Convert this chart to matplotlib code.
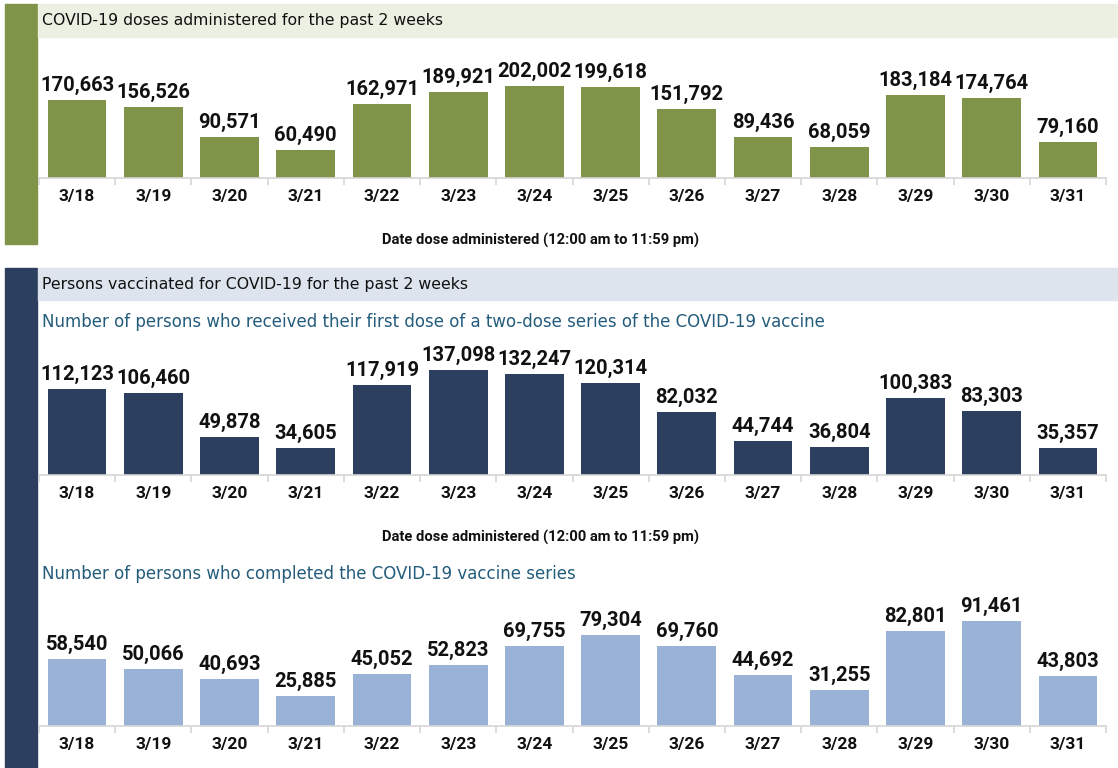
import matplotlib
matplotlib.use("Agg")
import matplotlib.pyplot as plt
from matplotlib.patches import Rectangle
from matplotlib import font_manager

dates = ["3/18", "3/19", "3/20", "3/21", "3/22", "3/23", "3/24",
         "3/25", "3/26", "3/27", "3/28", "3/29", "3/30", "3/31"]
doses_administered = [170663, 156526, 90571, 60490, 162971, 189921, 202002,
                      199618, 151792, 89436, 68059, 183184, 174764, 79160]
first_dose = [112123, 106460, 49878, 34605, 117919, 137098, 132247,
              120314, 82032, 44744, 36804, 100383, 83303, 35357]
completed_series = [58540, 50066, 40693, 25885, 45052, 52823, 69755,
                    79304, 69760, 44692, 31255, 82801, 91461, 43803]

header1 = "COVID-19 doses administered for the past 2 weeks"
header2 = "Persons vaccinated for COVID-19 for the past 2 weeks"
sub1 = "Number of persons who received their first dose of a two-dose series of the COVID-19 vaccine"
sub2 = "Number of persons who completed the COVID-19 vaccine series"
xlabel = "Date dose administered (12:00 am to 11:59 pm)"

W, H = 1118, 768
fig = plt.figure(figsize=(W / 100, H / 100), dpi=100)

names = {f.name for f in font_manager.fontManager.ttflist}
label_font = "Roboto" if "Roboto" in names else "DejaVu Sans"
narrow_font = "Liberation Sans Narrow" if "Liberation Sans Narrow" in names else label_font

GREEN = "#7F9449"
NAVY = "#2C3F5E"
LIGHTBLUE = "#9AB2D6"
SUBCOLOR = "#245C7C"


def fig_rect(x0, y0, x1, y1):
    return [x0 / W, 1 - y1 / H, (x1 - x0) / W, (y1 - y0) / H]


# background decoration (side bars and header bands)
bg = fig.add_axes([0, 0, 1, 1])
bg.set_xlim(0, W)
bg.set_ylim(H, 0)
bg.axis("off")
bg.add_patch(Rectangle((5, 4), 32, 240, color=GREEN))
bg.add_patch(Rectangle((38, 4), W - 38, 33, color="#ECF0E2"))
bg.add_patch(Rectangle((5, 268), 32, 500, color=NAVY))
bg.add_patch(Rectangle((38, 268), W - 38, 32, color="#DDE4EE"))
bg.text(42, 21, header1, fontsize=11.3, va="center", ha="left", color="#111111",
        family="DejaVu Sans")
bg.text(42, 285, header2, fontsize=11.3, va="center", ha="left", color="#111111",
        family="DejaVu Sans")
bg.text(42, 322, sub1, fontsize=12.0, va="center", ha="left", color=SUBCOLOR,
        family="DejaVu Sans")
bg.text(42, 574, sub2, fontsize=12.0, va="center", ha="left", color=SUBCOLOR,
        family="DejaVu Sans")
bg.text(540, 240, xlabel, fontsize=10.6, va="center", ha="center", color="#111111",
        family=narrow_font, weight="bold")
bg.text(540, 537, xlabel, fontsize=10.6, va="center", ha="center", color="#111111",
        family=narrow_font, weight="bold")


def panel(values, color, top_px, base_px, px_per_max, vmax, label_gap):
    ax = fig.add_axes(fig_rect(39, top_px, 1106, base_px))
    height_px = base_px - top_px
    ymax = vmax * height_px / px_per_max
    x = list(range(len(values)))
    ax.bar(x, values, width=0.77, color=color, edgecolor="none", zorder=2)
    ax.set_xlim(-0.5, len(values) - 0.5)
    ax.set_ylim(0, ymax)
    for s in ["top", "right", "left"]:
        ax.spines[s].set_visible(False)
    ax.spines["bottom"].set_color("#D6D6D6")
    ax.spines["bottom"].set_linewidth(1.2)
    ax.set_yticks([])
    ax.set_xticks([i + 0.5 for i in range(-1, len(values))], minor=False)
    ax.set_xticklabels([])
    ax.tick_params(axis="x", which="major", length=5, color="#D6D6D6", width=1.2)
    ax.set_xticks(x, minor=True)
    ax.set_xticklabels(dates, minor=True, fontsize=12.5, fontweight="bold",
                       family=label_font, color="#111111")
    ax.tick_params(axis="x", which="minor", length=0, pad=8)
    ax.patch.set_alpha(0)
    for xi, v in zip(x, values):
        ax.annotate(f"{v:,}", (xi, v), xytext=(0, label_gap), textcoords="offset pixels",
                    ha="center", va="bottom", fontsize=14.5, fontweight="bold",
                    family=label_font, color="#111111")
    return ax


panel(doses_administered, GREEN, 40, 178, 92, max(doses_administered), 5)
panel(first_dose, NAVY, 335, 475, 105, max(first_dose), 5)
panel(completed_series, LIGHTBLUE, 590, 726, 105, max(completed_series), 5)

fig.savefig("out.png", dpi=100)
